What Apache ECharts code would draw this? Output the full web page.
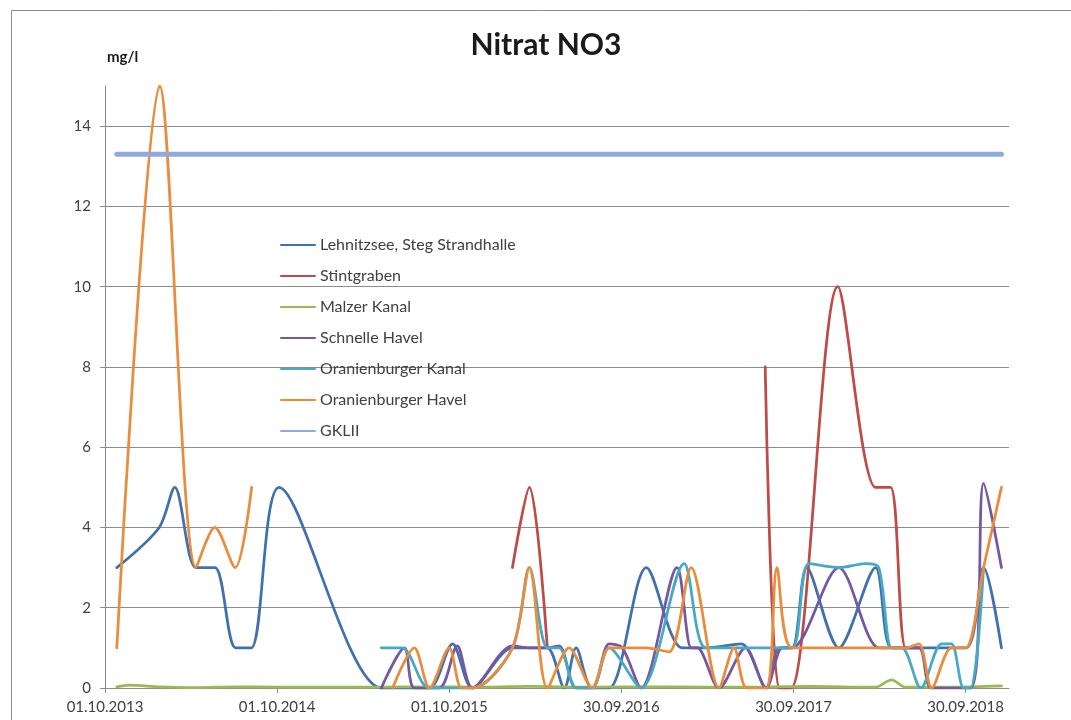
<!DOCTYPE html>
<html>
<head>
<meta charset="utf-8">
<script src="https://cdn.jsdelivr.net/npm/echarts@6/dist/echarts.min.js"></script>
<style>
html, body { margin: 0; padding: 0; background: #fff; }
#chart { width: 1071px; height: 720px; }
</style>
</head>
<body>
<div id="chart"></div>
<script>
// Messwerte [Datum, mg/l], null = Lücke
var lehnitzsee = [
    ['26.10.2013', 3], ['24.01.2014', 4], ['26.02.2014', 5], ['12.04.2014', 3],
    ['22.05.2014', 3], ['05.07.2014', 1], ['07.08.2014', 1], ['05.10.2014', 5],
    ['10.05.2015', 0], ['28.06.2015', 0], ['20.08.2015', 0], ['08.10.2015', 1.1],
    ['19.11.2015', 0], ['12.02.2016', 1], ['19.03.2016', 1], ['26.04.2016', 1],
    ['01.06.2016', 0], ['26.06.2016', 1], ['30.07.2016', 0], ['04.09.2016', 0],
    ['22.11.2016', 3], ['06.02.2017', 1], ['28.03.2017', 1], ['11.06.2017', 1.1],
    ['03.08.2017', 0], ['30.08.2017', 1], ['27.09.2017', 1], ['28.10.2017', 3],
    ['04.01.2018', 1], ['23.03.2018', 3], ['26.04.2018', 1], ['23.06.2018', 1],
    ['30.09.2018', 1], ['07.11.2018', 3], ['15.12.2018', 1]
];
var stintgraben = [
    ['12.02.2016', 3], ['19.03.2016', 5], ['26.04.2016', 1], ['01.01.2017', null],
    ['01.08.2017', 8], ['30.08.2017', 0], ['25.09.2017', 0], ['02.01.2018', 10],
    ['23.03.2018', 5], ['24.04.2018', 5], ['26.05.2018', 1], ['23.06.2018', 1]
];
var malzerKanal = [
    ['26.10.2013', 0.03], ['22.11.2013', 0.07], ['24.01.2014', 0.03], ['12.04.2014', 0.01],
    ['04.07.2014', 0.03], ['05.10.2014', 0.02], ['10.05.2015', 0.02], ['20.08.2015', 0.03],
    ['19.11.2015', 0.02], ['19.03.2016', 0.04], ['30.07.2016', 0.02], ['22.11.2016', 0.03],
    ['28.03.2017', 0.02], ['03.08.2017', 0.03], ['28.10.2017', 0.04], ['23.03.2018', 0.02],
    ['26.04.2018', 0.2], ['26.05.2018', 0.02], ['31.08.2018', 0.02], ['15.12.2018', 0.05]
];
var schnelleHavel = [
    ['10.05.2015', 0], ['28.06.2015', 1], ['19.07.2015', 0], ['10.09.2015', 0],
    ['18.10.2015', 1.05], ['19.11.2015', 0], ['12.02.2016', 1.05], ['19.03.2016', 1],
    ['26.04.2016', 1], ['21.05.2016', 1.05], ['26.06.2016', 0], ['30.07.2016', 0],
    ['04.09.2016', 1.1], ['02.10.2016', 1], ['11.11.2016', 0], ['26.01.2017', 3],
    ['25.02.2017', 1], ['10.03.2017', 1], ['25.04.2017', 0], ['20.06.2017', 1],
    ['03.08.2017', 0], ['06.09.2017', 1], ['27.09.2017', 1], ['04.01.2018', 3],
    ['30.03.2018', 1], ['05.05.2018', 1], ['23.06.2018', 1], ['20.07.2018', 0],
    ['11.10.2018', 0], ['07.11.2018', 5.1], ['15.12.2018', 3]
];
var oranienburgerKanal = [
    ['10.05.2015', 1], ['23.06.2015', 1], ['20.08.2015', 0], ['19.11.2015', 0],
    ['12.02.2016', 1], ['19.03.2016', 3], ['26.04.2016', 1], ['21.05.2016', 1],
    ['26.06.2016', 0], ['30.07.2016', 0], ['04.09.2016', 1], ['11.11.2016', 0],
    ['10.02.2017', 3.1], ['28.03.2017', 1], ['11.06.2017', 1], ['03.08.2017', 1],
    ['27.09.2017', 1], ['02.11.2017', 3.1], ['04.01.2018', 3], ['02.03.2018', 3.1],
    ['30.03.2018', 3], ['26.04.2018', 1], ['18.05.2018', 1], ['27.06.2018', 0],
    ['10.08.2018', 1.1], ['31.08.2018', 1.1], ['26.09.2018', 0], ['11.10.2018', 0],
    ['07.11.2018', 3]
];
var oranienburgerHavel = [
    ['26.10.2013', 1], ['25.01.2014', 15], ['12.04.2014', 3], ['22.05.2014', 4],
    ['04.07.2014', 3], ['08.08.2014', 5], ['01.01.2015', null],
    ['03.06.2015', 0], ['19.07.2015', 1], ['20.08.2015', 0], ['01.10.2015', 1],
    ['27.10.2015', 0], ['19.11.2015', 0], ['12.02.2016', 1], ['19.03.2016', 3],
    ['26.04.2016', 0], ['11.06.2016', 1], ['30.07.2016', 0], ['04.09.2016', 1],
    ['02.10.2016', 1], ['22.11.2016', 1], ['09.01.2017', 0.9], ['25.02.2017', 3],
    ['25.04.2017', 0], ['27.05.2017', 1], ['23.06.2017', 0], ['03.08.2017', 0],
    ['26.08.2017', 3], ['27.09.2017', 1], ['04.01.2018', 1], ['23.03.2018', 1],
    ['26.05.2018', 1], ['23.06.2018', 1.1], ['20.07.2018', 0], ['31.08.2018', 1],
    ['30.09.2018', 1], ['07.11.2018', 3], ['15.12.2018', 5]
];
var gklII = [['26.10.2013', 13.3], ['15.12.2018', 13.3]];

var axisStart = '01.10.2013';
var axisEnd = '31.12.2018';

var dayMs = 86400000;
function parseDate(s) {
    var p = s.split('.');
    return Date.UTC(+p[2], +p[1] - 1, +p[0]);
}
var t0 = parseDate(axisStart);
function toDay(s) {
    return Math.round((parseDate(s) - t0) / dayMs);
}
function dayLabel(day) {
    var d = new Date(t0 + day * dayMs);
    var dd = ('0' + d.getUTCDate()).slice(-2);
    var mm = ('0' + (d.getUTCMonth() + 1)).slice(-2);
    return dd + '.' + mm + '.' + d.getUTCFullYear();
}
function mkSeries(name, data, color, width) {
    return {
        name: name,
        type: 'line',
        smooth: 0.3,
        symbol: 'none',
        data: data.map(function (p) {
            return [toDay(p[0]), p[1] == null ? '-' : p[1]];
        }),
        lineStyle: { color: color, width: width, cap: 'round' },
        itemStyle: { color: color }
    };
}

var myChart = echarts.init(document.getElementById('chart'));
var gray = '#8c8c8c';
var font = 'Lato, "Noto Sans", sans-serif';
var option = {
    animation: false,
    backgroundColor: '#fff',
    textStyle: { fontFamily: font },
    title: {
        text: 'Nitrat NO3',
        left: 546,
        top: 30,
        padding: 0,
        textAlign: 'center',
        textStyle: { fontSize: 30, fontWeight: 'bold', color: '#1a1a1a', fontFamily: font }
    },
    graphic: [{
        type: 'rect',
        silent: true,
        shape: { x: 11.5, y: 10.5, width: 1200, height: 1000 },
        style: { fill: 'none', stroke: gray, lineWidth: 1 }
    }],
    legend: {
        orient: 'vertical',
        left: 280,
        top: 237,
        padding: 0,
        itemWidth: 34,
        itemHeight: 14,
        itemGap: 15,
        itemStyle: { opacity: 0 },
        textStyle: { fontSize: 16, color: '#404040', lineHeight: 14, fontFamily: font }
    },
    grid: { left: 105, right: 62, top: 86, bottom: 32, outerBoundsMode: 'none' },
    xAxis: {
        type: 'value',
        min: 0,
        max: toDay(axisEnd),
        interval: 365,
        axisLine: { show: true, lineStyle: { color: gray, width: 1 } },
        axisTick: { show: true, length: 5, lineStyle: { color: gray } },
        splitLine: { show: false },
        axisLabel: {
            formatter: dayLabel,
            showMaxLabel: false,
            margin: 12,
            fontSize: 15,
            color: '#404040',
            fontFamily: font
        }
    },
    yAxis: {
        type: 'value',
        min: 0,
        max: 15,
        interval: 2,
        name: 'mg/l',
        nameLocation: 'end',
        nameGap: 29,
        nameTextStyle: {
            fontSize: 15, fontWeight: 'bold', color: '#1a1a1a',
            align: 'left', verticalAlign: 'middle', padding: [0, 0, 0, 2], fontFamily: font
        },
        axisLine: { show: true, lineStyle: { color: gray, width: 1 } },
        axisTick: { show: true, length: 5, lineStyle: { color: gray } },
        splitLine: { show: true, showMaxLine: false, lineStyle: { color: gray, width: 1 } },
        axisLabel: { margin: 14, fontSize: 15, color: '#404040', showMaxLabel: false, fontFamily: font }
    },
    series: [
        mkSeries('Lehnitzsee, Steg Strandhalle', lehnitzsee, '#4070AE', 2.75),
        mkSeries('Stintgraben', stintgraben, '#BE4B48', 2.75),
        mkSeries('Malzer Kanal', malzerKanal, '#98B954', 2.75),
        mkSeries('Schnelle Havel', schnelleHavel, '#7458A0', 2.75),
        mkSeries('Oranienburger Kanal', oranienburgerKanal, '#46AAC5', 2.75),
        mkSeries('Oranienburger Havel', oranienburgerHavel, '#E98C3C', 2.75),
        mkSeries('GKLII', gklII, '#8FAADC', 5)
    ]
};
myChart.setOption(option);
</script>
</body>
</html>
